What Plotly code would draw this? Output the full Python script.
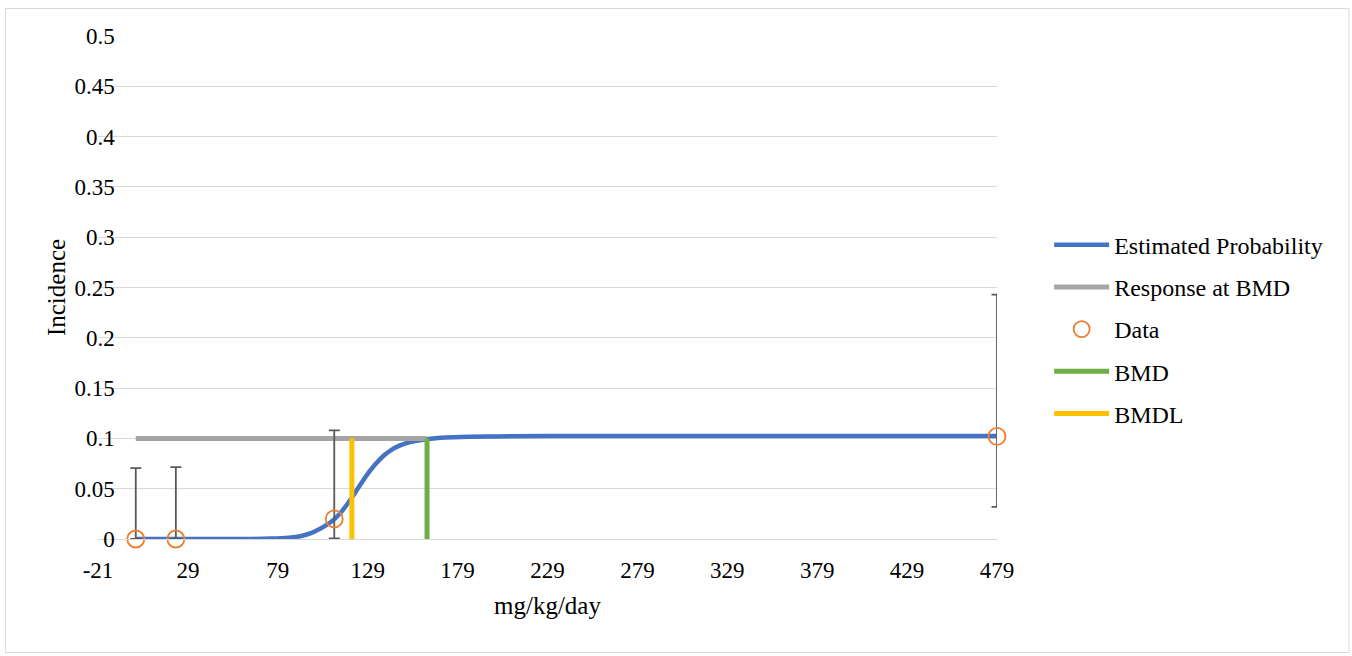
import plotly.graph_objects as go

# ---- data ----
curve_dose = [0, 25, 50, 65, 75, 85, 92, 97, 102, 106, 110, 114, 118, 122, 126, 130, 134, 138, 142, 147, 152, 158, 164, 172, 185, 200, 250, 350, 479]
curve_prob = [0, 0, 0, 0.0001, 0.0004, 0.0013, 0.0030, 0.0055, 0.0098, 0.0138, 0.0190, 0.0262, 0.0355, 0.0460, 0.0570, 0.0672, 0.0758, 0.0830, 0.0884, 0.0930, 0.0960, 0.0982, 0.0996, 0.1008, 0.1016, 0.1020, 0.1024, 0.1025, 0.1025]

data_dose = [0, 22.3, 110.4, 479]
data_inc = [0, 0, 0.02, 0.102]
ci_upper = [0.0705, 0.0715, 0.108, 0.243]
ci_lower = [0, 0, 0.0005, 0.032]

bmd = 162
bmdl = 120.2
bmr_response = 0.1

x_ticks = [-21, 29, 79, 129, 179, 229, 279, 329, 379, 429, 479]
y_ticks = [0, 0.05, 0.1, 0.15, 0.2, 0.25, 0.3, 0.35, 0.4, 0.45, 0.5]
y_labels = ["0", "0.05", "0.1", "0.15", "0.2", "0.25", "0.3", "0.35", "0.4", "0.45", "0.5"]
x_range = [-21, 479]

FONT = "Liberation Serif, Times New Roman, serif"

err_plus = [u - v for u, v in zip(ci_upper, data_inc)]
err_minus = [v - l for v, l in zip(data_inc, ci_lower)]

fig = go.Figure()
fig.add_trace(go.Scatter(
    x=curve_dose, y=curve_prob, mode="lines", name="Estimated Probability",
    line=dict(color="#4472C4", width=4.5, shape="spline", smoothing=0.8),
    cliponaxis=False, legendgroup="a"))
fig.add_trace(go.Scatter(
    x=[0, bmd], y=[bmr_response, bmr_response], mode="lines", name="Response at BMD",
    line=dict(color="#A5A5A5", width=5), cliponaxis=False, legendgroup="b"))
fig.add_trace(go.Scatter(
    x=data_dose, y=data_inc, mode="markers", name="Data",
    marker=dict(symbol="circle-open", size=17, color="#ED7D31", line=dict(width=1.8, color="#ED7D31")),
    error_y=dict(type="data", symmetric=False, array=err_plus, arrayminus=err_minus,
                 color="#595959", thickness=1.8, width=5.5),
    cliponaxis=False, legendgroup="c"))
fig.add_trace(go.Scatter(
    x=[bmd, bmd], y=[0, bmr_response], mode="lines", name="BMD",
    line=dict(color="#70AD47", width=5), cliponaxis=False, legendgroup="d"))
fig.add_trace(go.Scatter(
    x=[bmdl, bmdl], y=[0, bmr_response], mode="lines", name="BMDL",
    line=dict(color="#FFC000", width=5), cliponaxis=False, legendgroup="e"))

L, R, T, B = 98, 355, 36, 117
W, H = 1352, 656
pw, ph = W - L - R, H - T - B

def px_to_paper(px, py):
    return (px - L) / pw, (H - B - py) / ph

bx0, by0 = px_to_paper(5.5, 652.5)
bx1, by1 = px_to_paper(1349, 8.5)

fig.update_layout(
    width=W, height=H,
    margin=dict(l=L, r=R, t=T, b=B, autoexpand=False),
    paper_bgcolor="white", plot_bgcolor="white",
    font=dict(family=FONT, size=23, color="#000000"),
    showlegend=True,
    legend=dict(x=1.058, y=0.629, xanchor="left", yanchor="top",
                font=dict(family=FONT, size=24, color="#000000"),
                tracegroupgap=8, itemwidth=55, bgcolor="rgba(0,0,0,0)"),
    xaxis=dict(range=x_range, tickvals=x_ticks, ticktext=[str(t) for t in x_ticks],
               showgrid=False, zeroline=False, showline=True, linecolor="#D9D9D9", linewidth=1,
               ticks="", ticklabelstandoff=10,
               title=dict(text="mg/kg/day", font=dict(family=FONT, size=25), standoff=14)),
    yaxis=dict(range=[0, 0.5], tickvals=y_ticks, ticktext=y_labels,
               anchor="free", position=(0 - x_range[0]) / (x_range[1] - x_range[0]),
               showgrid=True, gridcolor="#D9D9D9", gridwidth=1, zeroline=False, showline=False,
               ticks="", ticklabelstandoff=21,
               title=dict(text="Incidence", font=dict(family=FONT, size=25), standoff=0)),
    shapes=[dict(type="rect", xref="paper", yref="paper", x0=bx0, y0=by0, x1=bx1, y1=by1,
                 line=dict(color="#D9D9D9", width=1), fillcolor="rgba(0,0,0,0)", layer="below")],
)

fig.write_html("out.html", config={"displayModeBar": False},
               post_script="document.body.style.margin='0';document.body.style.overflow='hidden';")
